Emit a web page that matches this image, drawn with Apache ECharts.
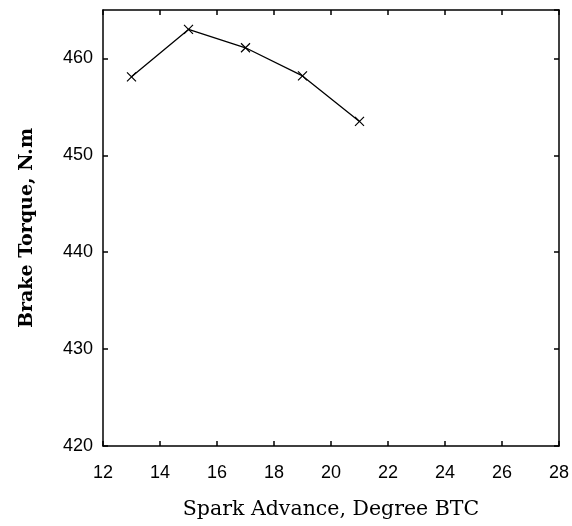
<!DOCTYPE html>
<html>
<head>
<meta charset="utf-8">
<script src="https://cdn.jsdelivr.net/npm/echarts@6/dist/echarts.min.js"></script>
<style>
  html, body { margin: 0; padding: 0; background: #fff; }
  #chart { width: 572px; height: 526px; }
</style>
</head>
<body>
<div id="chart"></div>
<script>
// Spark advance sweep vs. measured brake torque
const sparkAdvance = [13, 15, 17, 19, 21];
const brakeTorque = [458.1, 463.0, 461.1, 458.2, 453.5];
const xTicks = [12, 14, 16, 18, 20, 22, 24, 26, 28];
const yTicks = [420, 430, 440, 450, 460];

const xTitle = 'Spark Advance, Degree BTC';
const yTitle = 'Brake Torque, N.m';

const tickFont = { fontFamily: 'Liberation Sans', fontSize: 18, color: '#000' };
const axisLine = { show: true, lineStyle: { color: '#000', width: 1.5 } };
const tickIn = { show: true, inside: true, length: 5, lineStyle: { color: '#000', width: 1.5 } };

const chart = echarts.init(document.getElementById('chart'));
chart.setOption({
  animation: false,
  backgroundColor: '#fff',
  grid: { left: 103, right: 11, top: 10, bottom: 80 },
  xAxis: [
    {
      type: 'value', position: 'bottom',
      min: xTicks[0], max: xTicks[xTicks.length - 1], interval: 2,
      axisLine: axisLine, axisTick: tickIn, splitLine: { show: false },
      axisLabel: Object.assign({ margin: 18 }, tickFont),
      name: xTitle, nameLocation: 'middle', nameGap: 53,
      nameTextStyle: { fontFamily: 'DejaVu Serif', fontSize: 20.5, color: '#000' }
    },
    {
      type: 'value', position: 'top',
      min: xTicks[0], max: xTicks[xTicks.length - 1], interval: 2,
      axisLine: axisLine, axisTick: tickIn, splitLine: { show: false },
      axisLabel: { show: false }
    }
  ],
  yAxis: [
    {
      type: 'value', position: 'left',
      min: yTicks[0], max: 465, interval: 10,
      axisLine: axisLine, axisTick: tickIn, splitLine: { show: false },
      axisLabel: Object.assign({ margin: 10, showMaxLabel: false }, tickFont),
      name: yTitle, nameLocation: 'middle', nameGap: 66, nameRotate: 90,
      nameTextStyle: { fontFamily: 'DejaVu Serif', fontWeight: 'bold', fontSize: 19, color: '#000' }
    },
    {
      type: 'value', position: 'right',
      min: yTicks[0], max: 465, interval: 10,
      axisLine: axisLine, axisTick: tickIn, splitLine: { show: false },
      axisLabel: { show: false }
    }
  ],
  series: [{
    type: 'line',
    xAxisIndex: 0, yAxisIndex: 0,
    data: sparkAdvance.map((x, i) => [x, brakeTorque[i]]),
    lineStyle: { color: '#000', width: 1.3 },
    symbol: 'path://M0,0L10,10M10,0L0,10',
    symbolSize: 9,
    itemStyle: { color: 'none', borderColor: '#000', borderWidth: 1.2 }
  }]
});
</script>
</body>
</html>
